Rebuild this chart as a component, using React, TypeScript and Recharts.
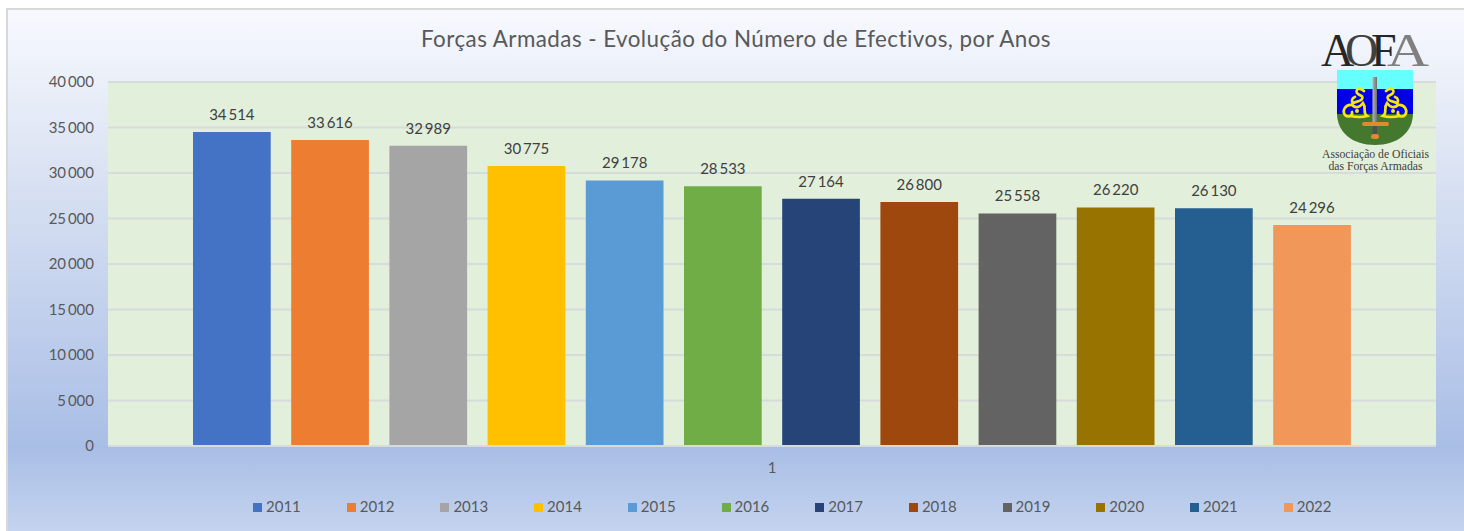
import { Bar, BarChart, CartesianGrid, LabelList, Legend, XAxis, YAxis } from 'recharts';

const years = ['2011', '2012', '2013', '2014', '2015', '2016', '2017', '2018', '2019', '2020', '2021', '2022'];
const values = [34514, 33616, 32989, 30775, 29178, 28533, 27164, 26800, 25558, 26220, 26130, 24296];
const colors = ['#4472c4', '#ed7d31', '#a5a5a5', '#ffc000', '#5b9bd5', '#70ad47', '#264478', '#9e480e', '#636363', '#997300', '#255e91', '#f1975a'];
const yTicks = [0, 5000, 10000, 15000, 20000, 25000, 30000, 35000, 40000];

const row: Record<string, string | number> = { name: '1' };
years.forEach((y, i) => {
  row[y] = values[i];
});
const data = [row];

const FONT = 'Lato, "Open Sans", sans-serif';
const fmt = (v: number) => String(v).replace(/\B(?=(\d{3})+$)/g, '\u2009');

const ChartLegend = () => (
  <div style={{ position: 'relative', height: 30 }}>
    {years.map((y, i) => (
      <span
        key={y}
        style={{
          position: 'absolute',
          left: 253 + i * 93.7,
          top: 11,
          fontSize: 15,
          color: '#595959',
          fontFamily: FONT,
          lineHeight: '18px',
          whiteSpace: 'nowrap',
        }}
      >
        <span
          style={{
            display: 'inline-block',
            width: 9,
            height: 9,
            marginRight: 4,
            background: colors[i],
          }}
        />
        {y}
      </span>
    ))}
  </div>
);

const scroll =
  'M1364 91C1360 87 1355 89 1357 93C1359 96 1364 95 1362 99C1360 103 1353 100 1352 105C1345 104 1342 111 1345 115C1348 118 1353 116 1352 112M1352 105C1356 109 1360 107 1363 103C1367 108 1362 113 1367 116C1360 118 1355 117 1350 116M1355 97C1352 98 1351 101 1353 103';

const Scroll = () => (
  <g>
    <path d={scroll} fill="none" stroke="#f5e60f" strokeWidth={2.7} strokeLinecap="round" />
    <circle cx={1357} cy={111} r={2} fill="#f5e60f" />
  </g>
);

const Logo = () => (
  <svg
    width={130}
    height={150}
    viewBox="1310 25 130 150"
    style={{ position: 'absolute', left: 1310, top: 25 }}
  >
    <g fontFamily="Liberation Serif" fontSize={46}>
      <text x={1387} y={66} fill="#808080" textLength={42} lengthAdjust="spacingAndGlyphs">A</text>
      <text x={1321} y={66} fill="#262626">A</text>
      <text x={1345} y={66} fill="#404040">O</text>
      <text x={1371} y={66} fill="#262626">F</text>
    </g>
    <defs>
      <clipPath id="shield">
        <path d="M1337 70H1413V113C1413 133 1397 145 1375 145C1353 145 1337 133 1337 113Z" />
      </clipPath>
      <linearGradient id="blade" x1="0" x2="1" y1="0" y2="0">
        <stop offset="0" stopColor="#b5b5b5" />
        <stop offset="1" stopColor="#6f6f6f" />
      </linearGradient>
    </defs>
    <g clipPath="url(#shield)">
      <rect x={1337} y={70} width={76} height={19} fill="#66ffff" />
      <rect x={1337} y={89} width={76} height={25} fill="#0000e6" />
      <rect x={1337} y={114} width={76} height={32} fill="#44782f" />
    </g>
    <Scroll />
    <g transform="translate(2750,0) scale(-1,1)">
      <Scroll />
    </g>
    <rect x={1372.5} y={77} width={4.5} height={47} fill="url(#blade)" />
    <rect x={1362} y={122} width={27} height={4} rx={2} fill="#e08a2e" />
    <rect x={1372.5} y={126} width={4.5} height={9} fill="#505050" />
    <rect x={1371} y={134} width={8} height={5} rx={2.5} fill="#e08a2e" />
    <g fontFamily="Liberation Serif" fontSize={11.7} fill="#404040" textAnchor="middle">
      <text x={1375.5} y={158}>Associação de Oficiais</text>
      <text x={1375.5} y={170}>das Forças Armadas</text>
    </g>
  </svg>
);

export default function App() {
  return (
    <div style={{ position: 'absolute', left: 0, top: 0, width: 1464, height: 531, overflow: 'hidden', background: '#ffffff' }}>
      <div
        style={{
          position: 'absolute',
          left: 6,
          top: 8,
          width: 1458,
          height: 523,
          boxSizing: 'border-box',
          borderLeft: '2px solid #d9d9d9',
          borderTop: '2px solid #d9d9d9',
          background: 'linear-gradient(180deg, #f7f9fe 0%, #dfe6f4 26%, #a9bee6 84%, #c4d4ef 100%)',
        }}
      />
      <div
        style={{
          position: 'absolute',
          left: 0,
          top: 25,
          width: 1472,
          textAlign: 'center',
          fontFamily: FONT,
          fontSize: 22.4,
          color: '#595959',
          letterSpacing: 0.45,
          lineHeight: '28px',
        }}
      >
        Forças Armadas - Evolução do Número de Efectivos, por Anos
      </div>
      <div style={{ position: 'absolute', left: 0, top: 0 }}>
        <BarChart
          width={1464}
          height={531}
          data={data}
          margin={{ top: 82, right: 28, bottom: 15, left: 0 }}
          barSize={77.7}
          barGap={20.5}
        >
          <CartesianGrid vertical={false} fill="#e2efda" stroke="#d6dbdc" strokeWidth={2} />
          <XAxis
            dataKey="name"
            height={40}
            tickLine={false}
            axisLine={{ stroke: '#d6dbdc', strokeWidth: 2 }}
            tick={{ fontSize: 15, fill: '#595959', fontFamily: FONT }}
            tickMargin={10}
          />
          <YAxis
            width={108}
            domain={[0, 40000]}
            ticks={yTicks}
            tickFormatter={fmt}
            tickLine={false}
            axisLine={false}
            tick={{ fontSize: 15, fill: '#595959', fontFamily: FONT }}
            tickMargin={8}
          />
          <Legend content={<ChartLegend />} height={30} verticalAlign="bottom" />
          {years.map((y, i) => (
            <Bar key={y} dataKey={y} fill={colors[i]} isAnimationActive={false}>
              <LabelList
                dataKey={y}
                position="top"
                offset={12}
                formatter={fmt}
                style={{ fontSize: 15, fill: '#404040', fontFamily: FONT }}
              />
            </Bar>
          ))}
        </BarChart>
      </div>
      <Logo />
    </div>
  );
}
